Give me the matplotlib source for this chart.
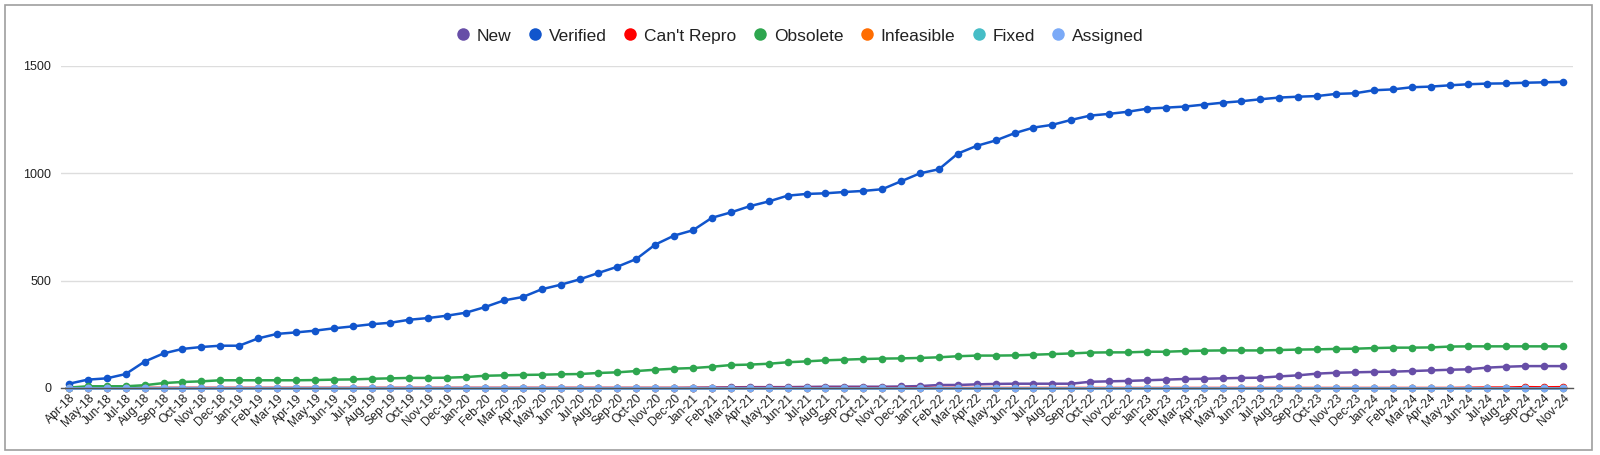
import matplotlib.pyplot as plt
import pandas as pd
from matplotlib.patches import Rectangle
from matplotlib.lines import Line2D

plt.rcParams['font.family'] = ['Liberation Sans', 'DejaVu Sans']

months = list(pd.date_range('2018-04-01', '2024-11-01', freq='MS').strftime('%b-%y'))

new = [0, 0, 0, 0, 0, 0, 0, 0, 0,
       0, 0, 0, 0, 0, 0, 0, 0, 0, 0, 0, 0,
       0, 0, 0, 0, 0, 0, 0, 0, 0, 0, 0, 0,
       1, 2, 3, 4, 4, 4, 5, 6, 6, 6, 6, 7,
       9, 14, 14, 17, 19, 20, 20, 20, 20, 29, 31, 33,
       36, 39, 42, 43, 45, 47, 48, 54, 59, 67, 71, 73,
       75, 76, 79, 82, 85, 87, 95, 99, 102, 102, 102]
verified = [20, 39, 45, 65, 123, 161, 182, 191, 197,
            197, 231, 252, 259, 267, 278, 287, 297, 304, 318, 326, 337,
            351, 377, 408, 424, 460, 481, 506, 536, 565, 601, 668, 710,
            735, 793, 818, 847, 869, 896, 904, 907, 913, 918, 926, 963,
            1000, 1019, 1092, 1128, 1153, 1187, 1213, 1226, 1249, 1269, 1277, 1287,
            1301, 1306, 1311, 1320, 1329, 1336, 1345, 1353, 1357, 1360, 1370, 1373,
            1387, 1391, 1401, 1404, 1410, 1415, 1418, 1419, 1422, 1424, 1426]
cant_repro = [0] * 74 + [1, 2, 2, 4, 3, 4]
obsolete = [2, 8, 8, 8, 13, 23, 28, 31, 36,
            36, 36, 36, 36, 37, 39, 40, 43, 45, 47, 47, 48,
            51, 57, 59, 61, 62, 64, 65, 70, 73, 79, 85, 90,
            93, 99, 107, 109, 113, 120, 124, 129, 132, 135, 137, 138,
            140, 143, 148, 151, 151, 152, 155, 158, 161, 165, 166, 166,
            169, 169, 172, 174, 175, 175, 175, 177, 179, 180, 182, 183,
            186, 188, 188, 189, 193, 194, 194, 194, 194, 194, 194]
infeasible = [0] * 80
fixed = [0] * 80
assigned = [0] * 80

series = [
    ("New", new, "#674ea7"),
    ("Verified", verified, "#1155cc"),
    ("Can't Repro", cant_repro, "#ff0000"),
    ("Obsolete", obsolete, "#2ea64f"),
    ("Infeasible", infeasible, "#ff6d01"),
    ("Fixed", fixed, "#46bdc6"),
    ("Assigned", assigned, "#7baaf7"),
]

fig = plt.figure(figsize=(16, 4.55), dpi=100)
ax = fig.add_axes([61 / 1600, 1 - 388 / 455, (1573 - 61) / 1600, (388 - 66) / 455])

x = list(range(len(months)))
for name, vals, col in series:
    ax.plot(x, vals, color=col, lw=1.8, marker='o', markersize=5.5,
            markeredgewidth=0, clip_on=False, label=name)

ax.set_xlim(-0.42, 79.53)
ax.set_ylim(0, 1500)
ax.set_yticks([0, 500, 1000, 1500])
ax.grid(axis='y', color='#dddddd', lw=1)
ax.set_axisbelow(True)
for s in ['top', 'right', 'left']:
    ax.spines[s].set_visible(False)
ax.spines['bottom'].set_color('#555555')
ax.spines['bottom'].set_linewidth(1)
ax.tick_params(axis='y', length=0, pad=7, labelsize=9, labelcolor='#222222')
ax.tick_params(axis='x', length=0, pad=3, labelsize=8.7, labelcolor='#222222')
ax.set_xticks(x)
ax.set_xticklabels(months, rotation=45, ha='right', rotation_mode='anchor')

handles = [Line2D([], [], ls='none', marker='o', markersize=9, color=c, markeredgewidth=0)
           for _, _, c in series]
fig.legend(handles, [n for n, _, _ in series], loc='center', bbox_to_anchor=(0.5, 1 - 36 / 455),
           ncol=7, frameon=False, fontsize=12.5, handlelength=0.8, handletextpad=0.4,
           columnspacing=0.95, labelcolor='#222222')

fig.patches.append(Rectangle((5 / 1600, 5 / 455), 1587 / 1600, 445 / 455,
                             transform=fig.transFigure, fill=False, ec='#9e9e9e', lw=1.2))

fig.savefig('out.png', dpi=100)
